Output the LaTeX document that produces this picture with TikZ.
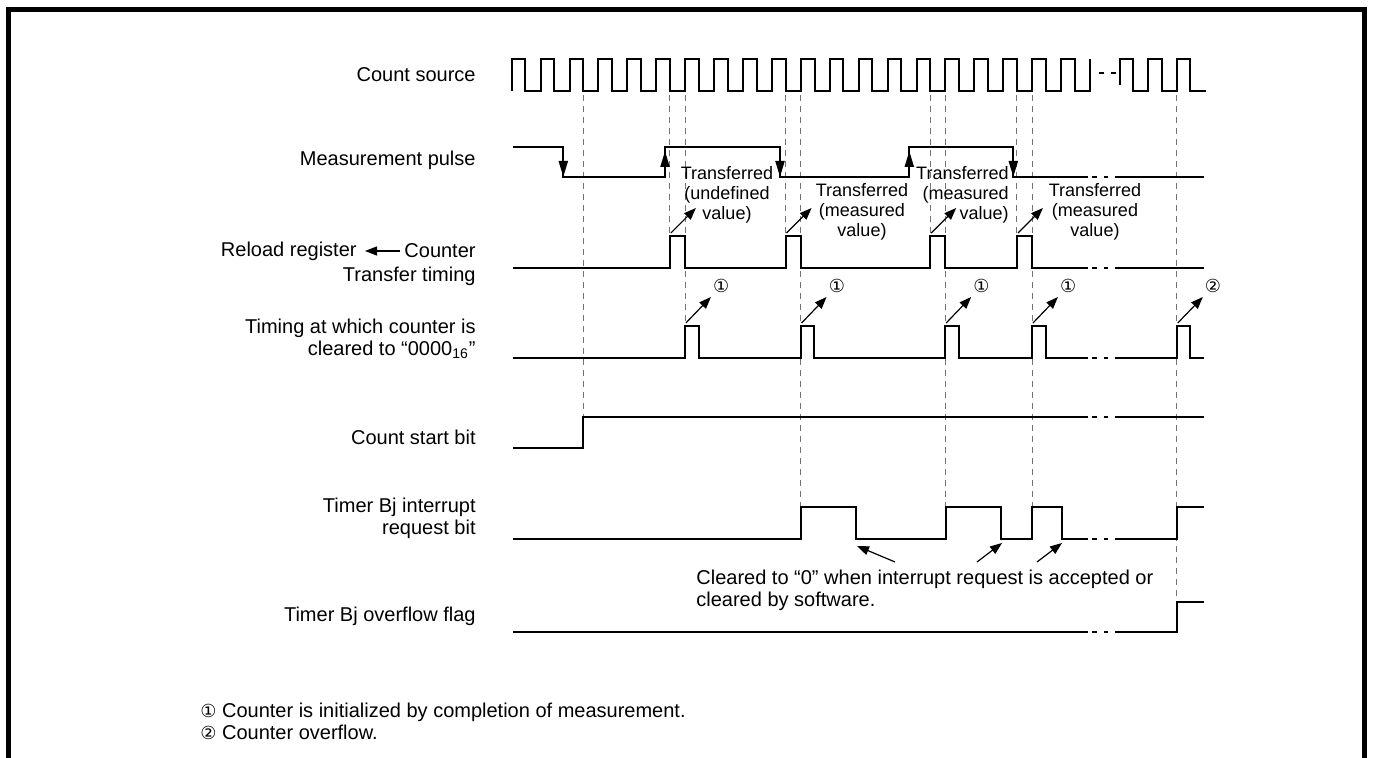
\documentclass[tikz,border=0pt]{standalone}
\usepackage{fontspec}
\setmainfont{Liberation Sans}
\newfontfamily\circfont{DejaVu Sans}
\usetikzlibrary{arrows.meta}
\def\tzero{525.3}
\def\per{28.92}
\newcommand{\sigbreak}[1]{\draw[wave] (1092,#1) -- (1097,#1) (1104,#1) -- (1108,#1);}

\begin{document}
\begin{tikzpicture}[x=0.5pt,y=-0.5pt,
  wave/.style={line width=1pt},
  guide/.style={black!55,line width=0.5pt,dash pattern=on 3pt off 2.5pt},
  lbl/.style={inner sep=0pt,font=\fontsize{10}{11}\selectfont},
  xfer/.style={inner sep=0pt,font=\fontsize{9}{10}\selectfont},
  circ/.style={inner sep=0pt,font=\circfont\fontsize{9}{10}\selectfont},
  pointer/.style={line width=0.6pt,-{Triangle[length=6pt,width=4.5pt]}},
  edgetip/.style={line width=1pt,-{Triangle[length=8pt,width=4.5pt]}}]
\useasboundingbox (0,0) rectangle (1373,758);
\draw[line width=2.5pt] (8.5,758) -- (8.5,9.5) -- (1364.5,9.5) -- (1364.5,758);

\foreach \x/\yb in {583.1/417,669.9/236,685.2/326,785.6/236,800.9/507,930.2/236,945.5/507,1016.9/236,1032.2/507,1176.8/602}
  \draw[guide] (\x,95) -- (\x,\yb);

\node[lbl,anchor=east] (cs) at (476,75) {Count source};
\draw[wave] (511.7,91) -- (511.7,59)
  foreach \k in {0,...,19}{ -- ({\tzero+\per*\k},59) -- ++(0,32) -- ++(15.3,0) -- ++(0,-32)};
\draw[wave] (1099,73) -- (1104,73) (1111,73) -- (1116,73);
\draw[wave] (1120,85) -- (1120,59)
  foreach \k in {21,22}{ -- ({\tzero+\per*\k},59) -- ++(0,32) -- ++(15.3,0) -- ++(0,-32)}
  -- ({\tzero+\per*23},59) -- ++(0,32) -- (1206,91);

\node[lbl,anchor=east] (mp) at (476,160) {Measurement pulse};
\draw[wave] (513,147) -- (563.3,147) -- (563.3,177) -- (665,177) -- (665,147) -- (780,147) -- (780,177)
  -- (909.3,177) -- (909.3,147) -- (1013.3,147) -- (1013.3,177) -- (1088,177);
\sigbreak{177}
\draw[wave] (1115,177) -- (1204,177);
\draw[edgetip] (563.3,150) -- (563.3,177);
\draw[edgetip] (665,174) -- (665,151);
\draw[edgetip] (780,150) -- (780,177);
\draw[edgetip] (909.3,174) -- (909.3,151);
\draw[edgetip] (1013.3,150) -- (1013.3,177);

\node[lbl,anchor=east] (cnt) at (476,251) {Counter};
\node[lbl,anchor=east] (rld) at (357,251) {Reload register};
\draw[pointer] ([xshift=-2pt]cnt.west) -- ([xshift=4pt]rld.east |- cnt.west);
\node[lbl,anchor=east] (tt) at (476,276) {Transfer timing};
\draw[wave] (513,268) foreach \k in {5,9,14,17}{ -- ({\tzero+\per*\k},268) -- ++(0,-32) -- ++(15.3,0) -- ++(0,32)} -- (1088,268);
\sigbreak{268}
\draw[wave] (1115,268) -- (1204,268);

\node[xfer,align=center] (t1) at (727,195) {Transferred\\(undefined\\value)};
\node[xfer,align=center] (t2) at (862,212) {Transferred\\(measured\\value)};
\node[xfer,align=right,anchor=east] (t3) at (1009,195) {Transferred\\(measured\\value)};
\node[xfer,align=center] (t4) at (1095,212) {Transferred\\(measured\\value)};
\foreach \k in {5,9,14,17}
  \draw[pointer] ({\tzero+\per*\k+1},233) -- ++(25,-25);

\node[lbl,anchor=east,align=right] (clr) at (476,339) {Timing at which counter is\\cleared to “0000\textsubscript{16}”};
\draw[wave] (513,358) foreach \k in {5,9,14,17}{ -- ({\tzero+\per*\k+15.3},358) -- ++(0,-32) -- ++(13.6,0) -- ++(0,32)} -- (1088,358);
\sigbreak{358}
\draw[wave] (1115,358) -- (1176.8,358) -- ++(0,-32) -- ++(13.6,0) -- ++(0,32) -- (1204,358);
\foreach \k in {5,9,14,17}{
  \draw[pointer] ({\tzero+\per*\k+16},323) -- ++(25,-26);
  \node[circ] (c\k) at ({\tzero+\per*\k+15.3+36},286) {①};
}
\draw[pointer] (1177.8,323) -- ++(25,-26);
\node[circ] (c22) at (1213,286) {②};

\node[lbl,anchor=east] (csb) at (476,437) {Count start bit};
\draw[wave] (513,448) -- (583.1,448) -- (583.1,417) -- (1088,417);
\sigbreak{417}
\draw[wave] (1115,417) -- (1204,417);

\node[lbl,anchor=east,align=right] (irq) at (476,518) {Timer Bj interrupt\\request bit};
\draw[wave] (513,539) -- (800.9,539) -- (800.9,507) -- (856,507) -- (856,539) -- (945.5,539) -- (945.5,507)
  -- (1000.7,507) -- (1000.7,539) -- (1032.2,539) -- (1032.2,507) -- (1061.7,507) -- (1061.7,539) -- (1088,539);
\sigbreak{539}
\draw[wave] (1115,539) -- (1176.8,539) -- (1176.8,507) -- (1204,507);

\node[lbl,anchor=west,align=left] (note) at (696,590) {Cleared to “0” when interrupt request is accepted or\\cleared by software.};
\draw[pointer] (895,562) -- (857,546);
\draw[pointer] (977,562) -- (1002,543);
\draw[pointer] (1037,562) -- (1062,543);

\node[lbl,anchor=east] (ovf) at (476,616) {Timer Bj overflow flag};
\draw[wave] (513,632) -- (1088,632);
\sigbreak{632}
\draw[wave] (1115,632) -- (1176.8,632) -- (1176.8,602) -- (1204,602);

\node[lbl,anchor=west] (n1) at (200,712) {{\circfont\fontsize{9}{10}\selectfont ①} Counter is initialized by completion of measurement.};
\node[lbl,anchor=west] (n2) at (200,732) {{\circfont\fontsize{9}{10}\selectfont ②} Counter overflow.};
\end{tikzpicture}
\end{document}
